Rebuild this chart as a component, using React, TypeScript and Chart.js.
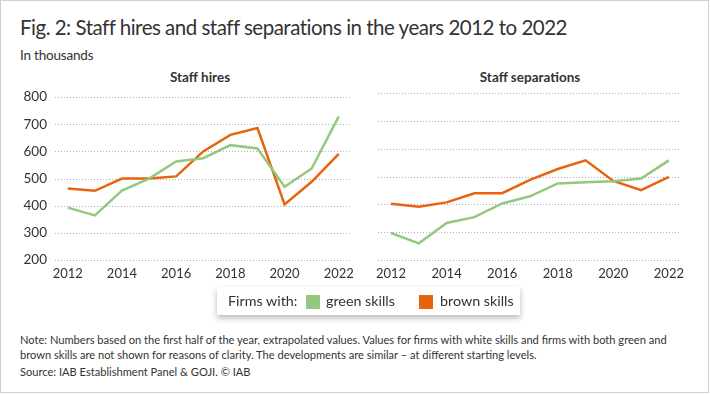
import React, { useEffect, useRef } from "react";
import { Chart, registerables } from "chart.js";

Chart.register(...registerables);

const years = [2012, 2013, 2014, 2015, 2016, 2017, 2018, 2019, 2020, 2021, 2022];
const hiresGreen = [393, 364, 456, 500, 563, 575, 623, 611, 470, 537, 729];
const hiresBrown = [463, 455, 500, 500, 508, 600, 661, 686, 405, 488, 591];
const sepGreen = [297, 260, 333, 354, 403, 429, 475, 479, 483, 493, 558];
const sepBrown = [402, 391, 407, 440, 440, 488, 527, 558, 484, 451, 499];
const yTicks = [200, 300, 400, 500, 600, 700, 800];
const seriesNames = ["green skills", "brown skills"];

const GREEN = "#92c87f";
const ORANGE = "#e8640c";
const TEXT = "#333333";
const FONT = "Lato, 'Open Sans', sans-serif";

function toPoints(vals: number[]) {
  return years.map((y, i) => ({ x: y, y: vals[i] }));
}

function Panel(props: {
  green: number[];
  brown: number[];
  showY: boolean;
  yWidth: number;
  padRight: number;
  width: number;
}) {
  const ref = useRef<HTMLCanvasElement | null>(null);
  useEffect(() => {
    if (!ref.current) return;
    const chart = new Chart(ref.current, {
      type: "line",
      data: {
        datasets: [
          {
            label: seriesNames[0],
            data: toPoints(props.green),
            borderColor: GREEN,
            backgroundColor: GREEN,
            borderWidth: 2.5,
            pointRadius: 0,
            tension: 0,
          },
          {
            label: seriesNames[1],
            data: toPoints(props.brown),
            borderColor: ORANGE,
            backgroundColor: ORANGE,
            borderWidth: 2.5,
            pointRadius: 0,
            tension: 0,
          },
        ],
      },
      options: {
        animation: false,
        responsive: false,
        maintainAspectRatio: false,
        layout: { padding: { top: 12, right: props.padRight, left: 0, bottom: 0 } },
        plugins: {
          legend: { display: false },
          tooltip: { enabled: false },
          title: { display: false },
        },
        scales: {
          x: {
            type: "linear",
            min: 2011.53,
            max: 2022.4,
            border: { display: false },
            grid: { display: false, drawTicks: false },
            afterFit: (s: any) => {
              s.height = 25;
            },
            afterBuildTicks: (s: any) => {
              s.ticks = years.filter((y) => y % 2 === 0).map((v) => ({ value: v }));
            },
            ticks: {
              padding: 6,
              maxRotation: 0,
              autoSkip: false,
              color: TEXT,
              font: { family: FONT, size: 13 },
              callback: (v: any) => String(v),
            },
          },
          y: {
            min: 200,
            max: 800,
            border: { display: false },
            afterFit: (s: any) => {
              s.width = props.yWidth;
            },
            afterBuildTicks: (s: any) => {
              s.ticks = yTicks.map((v) => ({ value: v }));
            },
            grid: { display: false, drawTicks: false },
            ticks: {
              display: props.showY,
              padding: 8,
              color: TEXT,
              font: { family: FONT, size: 13.5 },
              callback: (v: any) => String(v),
            },
          },
        },
      },
      plugins: [
        {
          id: "dottedGrid",
          beforeDatasetsDraw: (c: any) => {
            const y = c.scales.y;
            const ctx = c.ctx;
            ctx.save();
            ctx.strokeStyle = "#b0b0b0";
            ctx.lineWidth = 1;
            ctx.setLineDash([1, 2]);
            yTicks.forEach((t) => {
              const py = Math.round(y.getPixelForValue(t)) + 0.5;
              ctx.beginPath();
              ctx.moveTo(c.chartArea.left, py);
              ctx.lineTo(c.chartArea.right, py);
              ctx.stroke();
            });
            ctx.restore();
          },
        },
      ],
    } as any);
    return () => chart.destroy();
  }, []);
  return <canvas ref={ref} width={props.width} height={204} style={{ display: "block" }} />;
}

export default function App() {
  const abs = (o: any): React.CSSProperties => ({ position: "absolute", ...o });
  return (
    <div
      style={{
        position: "fixed",
        left: 0,
        top: 0,
        width: 710,
        height: 395,
        background: "#fff",
        fontFamily: FONT,
        color: TEXT,
      }}
    >
      <div
        style={abs({
          left: 0,
          top: 0,
          width: 709,
          height: 393,
          border: "1px solid #cfcfcf",
          boxSizing: "border-box",
        })}
      />
      <div style={abs({ left: 20, top: 13, fontSize: 20.5, letterSpacing: -0.5, whiteSpace: "nowrap", lineHeight: "28px" })}>
        Fig. 2: Staff hires and staff separations in the years 2012 to 2022
      </div>
      <div style={abs({ left: 20, top: 45, fontSize: 13.5, letterSpacing: -0.2, whiteSpace: "nowrap", lineHeight: "20px" })}>
        In thousands
      </div>
      <div style={abs({ left: 100, width: 200, top: 68, textAlign: "center", fontSize: 13.5, fontWeight: 700, lineHeight: "18px" })}>
        Staff hires
      </div>
      <div style={abs({ left: 430, width: 200, top: 68, textAlign: "center", fontSize: 13.5, fontWeight: 700, lineHeight: "18px" })}>
        Staff separations
      </div>
      <div style={abs({ left: 0, top: 81 })}>
        <Panel green={hiresGreen} brown={hiresBrown} showY={true} yWidth={55} padRight={4} width={360} />
      </div>
      <div style={abs({ left: 360, top: 81 })}>
        <Panel green={sepGreen} brown={sepBrown} showY={false} yWidth={18} padRight={30} width={350} />
      </div>
      <div
        style={abs({
          left: 217,
          top: 287,
          width: 303,
          height: 28,
          background: "#fff",
          boxShadow: "0 3px 6px rgba(0,0,0,0.28)",
          fontSize: 14.3,
          whiteSpace: "nowrap",
          lineHeight: "28px",
        })}
      >
        <span style={abs({ left: 11, top: 0 })}>Firms with:</span>
        <span style={abs({ left: 89, top: 8, width: 14, height: 14, background: GREEN })} />
        <span style={abs({ left: 109, top: 0 })}>{seriesNames[0]}</span>
        <span style={abs({ left: 202, top: 8, width: 14, height: 14, background: ORANGE })} />
        <span style={abs({ left: 223, top: 0 })}>{seriesNames[1]}</span>
      </div>
      <div style={abs({ left: 20, top: 332, fontSize: 11.1, lineHeight: "15px", whiteSpace: "nowrap" })}>
        Note: Numbers based on the first half of the year, extrapolated values. Values for firms with white skills and firms with both green and
        <br />
        brown skills are not shown for reasons of clarity. The developments are similar – at different starting levels.
      </div>
      <div style={abs({ left: 20, top: 364, fontSize: 11.1, lineHeight: "15px", whiteSpace: "nowrap" })}>
        Source: IAB Establishment Panel &amp; GOJI. © IAB
      </div>
    </div>
  );
}
